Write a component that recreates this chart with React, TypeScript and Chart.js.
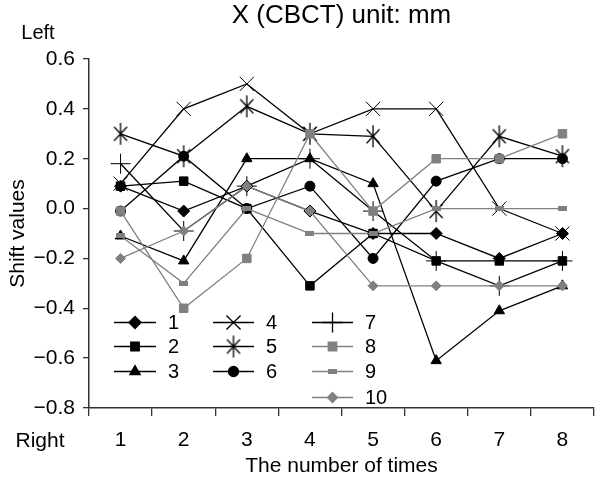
import React, { useEffect, useRef } from 'react';
import { Chart, registerables } from 'chart.js';
import { drawPoint } from 'chart.js/helpers';

Chart.register(...registerables);

const categories = ['1', '2', '3', '4', '5', '6', '7', '8'];
const seriesNames = ['1', '2', '3', '4', '5', '6', '7', '8', '9', '10'];

const s1 = [0.09, -0.01, 0.09, -0.01, -0.10, -0.10, -0.20, -0.10];
const s2 = [0.09, 0.11, 0.00, -0.31, -0.10, -0.21, -0.21, -0.21];
const s3 = [-0.11, -0.21, 0.20, 0.20, 0.10, -0.61, -0.41, -0.31];
const s4 = [0.10, 0.40, 0.50, 0.30, 0.40, 0.40, 0.00, -0.10];
const s5 = [0.30, 0.21, 0.41, 0.30, 0.29, -0.01, 0.29, 0.21];
const s6 = [-0.01, 0.21, 0.00, 0.09, -0.20, 0.11, 0.20, 0.20];
const s7 = [0.18, -0.09, 0.09, 0.20, -0.01, -0.21, -0.31, -0.21];
const s8 = [-0.01, -0.40, -0.20, 0.30, -0.01, 0.20, 0.20, 0.30];
const s9 = [-0.11, -0.30, 0.00, -0.10, -0.10, 0.00, 0.00, 0.00];
const s10 = [-0.20, -0.09, 0.09, -0.01, -0.31, -0.31, -0.31, -0.31];

const yMin = -0.8;
const yMax = 0.6;
const yStep = 0.2;

const titleText = 'X (CBCT) unit: mm';
const yTitle = 'Shift values';
const xTitle = 'The number of times';
const topNote = 'Left';
const bottomNote = 'Right';

const FONT = "'Liberation Sans', Arial, Helvetica, sans-serif";
const BLACK = '#000000';
const GRAY = '#808080';
const AXIS = '#333333';

function makeAsterisk(): HTMLCanvasElement {
  const c = document.createElement('canvas');
  c.width = 18;
  c.height = 24;
  const ctx = c.getContext('2d')!;
  ctx.strokeStyle = BLACK;
  ctx.lineWidth = 1.3;
  ctx.beginPath();
  ctx.moveTo(9, 1);
  ctx.lineTo(9, 23);
  ctx.moveTo(2.5, 5);
  ctx.lineTo(15.5, 19);
  ctx.moveTo(15.5, 5);
  ctx.lineTo(2.5, 19);
  ctx.stroke();
  return c;
}

function makeFlatRect(): HTMLCanvasElement {
  const c = document.createElement('canvas');
  c.width = 9;
  c.height = 5;
  const ctx = c.getContext('2d')!;
  ctx.fillStyle = GRAY;
  ctx.fillRect(0, 0, 9, 5);
  return c;
}

export default function App() {
  const ref = useRef<HTMLCanvasElement>(null);

  useEffect(() => {
    if (!ref.current) return;
    const asterisk = makeAsterisk();
    const flatRect = makeFlatRect();

    const values = [s1, s2, s3, s4, s5, s6, s7, s8, s9, s10];
    const styles: any[] = [
      { color: BLACK, pointStyle: 'rectRot', r: 6 },
      { color: BLACK, pointStyle: 'rect', r: 6 },
      { color: BLACK, pointStyle: 'triangle', r: 6 },
      { color: BLACK, pointStyle: 'crossRot', r: 10 },
      { color: BLACK, pointStyle: asterisk, r: 10 },
      { color: BLACK, pointStyle: 'circle', r: 5 },
      { color: BLACK, pointStyle: 'cross', r: 10 },
      { color: GRAY, pointStyle: 'rect', r: 6 },
      { color: GRAY, pointStyle: flatRect, r: 5 },
      { color: GRAY, pointStyle: 'rectRot', r: 5 },
    ];

    const datasets = values.map((d, i) => ({
      label: seriesNames[i],
      data: d,
      borderColor: styles[i].color,
      backgroundColor: styles[i].color,
      borderWidth: 1.3,
      pointStyle: styles[i].pointStyle,
      pointRadius: styles[i].r,
      pointBackgroundColor: styles[i].color,
      pointBorderColor: styles[i].color,
      pointBorderWidth: 1,
      tension: 0,
      fill: false,
      order: 9 - i,
    }));

    const textPlugin = {
      id: 'texts',
      afterDraw(chart: any) {
        const ctx = chart.ctx;
        const ca = chart.chartArea;
        ctx.save();
        ctx.fillStyle = BLACK;
        ctx.textBaseline = 'middle';
        ctx.textAlign = 'center';
        ctx.font = `26px ${FONT}`;
        ctx.fillText(titleText, (ca.left + ca.right) / 2, 16);
        ctx.font = `20px ${FONT}`;
        ctx.fillText(topNote, 38, 33);
        ctx.font = `21px ${FONT}`;
        ctx.fillText(bottomNote, 40, 441);

        // legend
        const cols = [
          { x0: 114, x1: 156, tx: 168 },
          { x0: 213, x1: 254, tx: 266 },
          { x0: 312, x1: 353, tx: 365 },
        ];
        const rows = [322.5, 346.5, 371.5, 397.5];
        ctx.font = `20px ${FONT}`;
        ctx.textAlign = 'left';
        chart.data.datasets.forEach((ds: any, i: number) => {
          const col = i < 3 ? 0 : i < 6 ? 1 : 2;
          const row = i < 6 ? i % 3 : i - 6;
          const c = cols[col];
          const y = rows[row];
          ctx.strokeStyle = ds.borderColor;
          ctx.lineWidth = ds.borderWidth;
          ctx.beginPath();
          ctx.moveTo(c.x0, y);
          ctx.lineTo(c.x1, y);
          ctx.stroke();
          ctx.fillStyle = ds.pointBackgroundColor;
          ctx.strokeStyle = ds.pointBorderColor;
          drawPoint(ctx, {
            pointStyle: ds.pointStyle,
            rotation: 0,
            radius: ds.pointRadius,
            borderWidth: ds.pointBorderWidth,
          } as any, (c.x0 + c.x1) / 2, y);
          ctx.fillStyle = BLACK;
          ctx.fillText(ds.label, c.tx, y + 1);
        });
        ctx.restore();
      },
    };

    const fmt = (v: number) => {
      if (Math.abs(v) < 1e-9) return '0.0';
      const s = Number(v).toFixed(1);
      return s.replace('-', '\u2212');
    };

    const chart = new Chart(ref.current, {
      type: 'line',
      data: { labels: categories, datasets },
      options: {
        animation: false,
        responsive: false,
        layout: { padding: { top: 59, left: 0, right: 0, bottom: 0 } },
        plugins: {
          legend: { display: false },
          tooltip: { enabled: false },
          title: { display: false },
        },
        scales: {
          x: {
            type: 'category',
            offset: true,
            grid: {
              offset: true,
              drawOnChartArea: false,
              drawTicks: true,
              tickLength: 8,
              color: AXIS,
              lineWidth: 1.3,
            },
            border: { display: true, color: AXIS, width: 1.5 },
            ticks: {
              color: BLACK,
              font: { family: FONT, size: 21 },
              padding: 12,
              maxRotation: 0,
            },
            title: {
              display: true,
              text: xTitle,
              color: BLACK,
              font: { family: FONT, size: 21 },
              padding: { top: 0, bottom: -2 },
            },
            afterFit: (scale: any) => {
              scale.height = 69;
            },
          },
          y: {
            type: 'linear',
            min: yMin,
            max: yMax,
            grid: {
              drawOnChartArea: false,
              drawTicks: true,
              tickLength: 6,
              color: AXIS,
              lineWidth: 1.3,
            },
            border: { display: true, color: AXIS, width: 1.5 },
            ticks: {
              stepSize: yStep,
              color: BLACK,
              font: { family: FONT, size: 21 },
              padding: 8,
              callback: (v: any) => fmt(Number(v)),
            },
            title: {
              display: true,
              text: yTitle,
              color: BLACK,
              font: { family: FONT, size: 21 },
              padding: { top: 6, bottom: 0 },
            },
            afterFit: (scale: any) => {
              scale.width = 89;
            },
          },
        },
      },
      plugins: [textPlugin],
    } as any);

    return () => chart.destroy();
  }, []);

  return (
    <div style={{ position: 'fixed', left: 0, top: 0, width: 605, height: 477, background: '#fff' }}>
      <canvas ref={ref} width={605} height={477} style={{ display: 'block' }} />
    </div>
  );
}
